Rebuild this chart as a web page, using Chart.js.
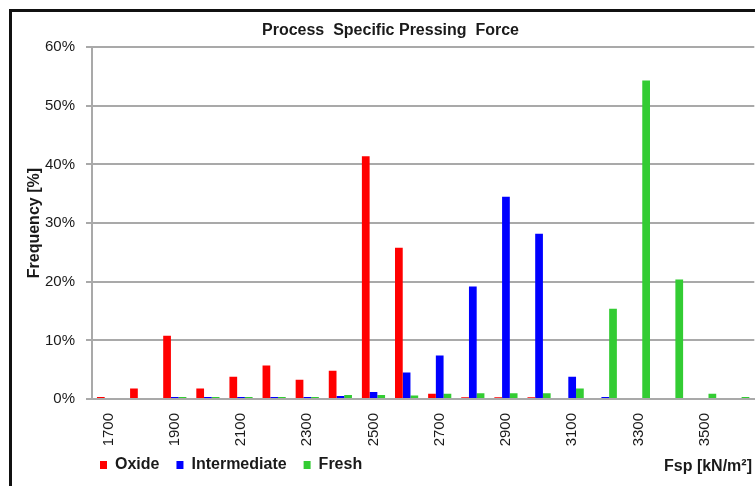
<!DOCTYPE html>
<html>
<head>
<meta charset="utf-8">
<script src="https://cdn.jsdelivr.net/npm/chart.js@4/dist/chart.umd.min.js"></script>
<style>
  html, body { margin:0; padding:0; background:#fff; overflow:hidden; width:755px; height:486px; }
  #wrap  { position:absolute; left:0; top:0; width:770px; height:497px; }
  #frame { position:absolute; left:9px; top:9px; width:900px; height:600px;
           border-left:3px solid #111; border-top:3px solid #111; pointer-events:none; }
</style>
</head>
<body>
<div id="wrap"><canvas id="chart"></canvas></div>
<div id="frame"></div>
<script>
'use strict';

/* ─── Data (percent) ───────────────────────────────────────────── */
const categories   = ['1700','1800','1900','2000','2100','2200','2300','2400','2500','2600',
                      '2700','2800','2900','3000','3100','3200','3300','3400','3500','3600'];
const oxide        = [0.35, 1.8, 10.8, 1.8, 3.8, 5.7, 3.3, 4.8, 41.4, 25.8,
                      0.9, 0.3, 0.3, 0.3, 0, 0, 0, 0, 0, 0];
const intermediate = [0, 0, 0.35, 0.35, 0.35, 0.35, 0.35, 0.5, 1.2, 4.5,
                      7.4, 19.2, 34.5, 28.2, 3.8, 0.35, 0, 0, 0, 0];
const fresh        = [0, 0, 0.35, 0.35, 0.35, 0.35, 0.35, 0.7, 0.7, 0.6,
                      0.9, 1.0, 1.0, 1.0, 1.8, 15.4, 54.3, 20.4, 0.9, 0.35];
const yTicks       = [0, 10, 20, 30, 40, 50, 60];

const FONT  = "'Liberation Sans', Arial, sans-serif";
const GRID  = '#a9a9a9';
const TEXT  = '#1a1a1a';

/* ─── Helpers ──────────────────────────────────────────────────── */
/* move the legend row under the plot, level with the x caption */
const legendShift = {
  id: 'legendShift',
  afterLayout(chart) {
    const l = chart.legend;
    if (!l) return;
    l.left += 62;  l.right += 62;
    l.top  -= 11;  l.bottom -= 11;
  }
};
/* x-axis caption sits on the legend row, right aligned */
const xCaption = {
  id: 'xCaption',
  afterDraw(chart) {
    const ctx = chart.ctx;
    ctx.save();
    ctx.font = 'bold 16px ' + FONT;
    ctx.fillStyle = TEXT;
    ctx.textAlign = 'right';
    ctx.textBaseline = 'middle';
    ctx.fillText('Fsp [kN/m²]', 752, 467);
    ctx.restore();
  }
};

function series(label, data, color) {
  return { label, data, backgroundColor: color, borderWidth: 0,
           categoryPercentage: 0.7, barPercentage: 1.0 };
}

/* ─── Chart ────────────────────────────────────────────────────── */
new Chart(document.getElementById('chart'), {
  type: 'bar',
  data: {
    labels: categories,
    datasets: [
      series('Oxide',        oxide,        '#ff0000'),
      series('Intermediate', intermediate, '#0000ff'),
      series('Fresh',        fresh,        '#33cc33'),
    ]
  },
  options: {
    responsive: true,
    maintainAspectRatio: false,
    animation: false,
    layout: { padding: { left: 21, right: 10, top: 0, bottom: 3 } },
    plugins: {
      title: {
        display: true, text: 'Process  Specific Pressing  Force', color: TEXT,
        font: { family: FONT, size: 16, weight: 'bold' },
        padding: { top: 21, bottom: 7 }
      },
      legend: {
        position: 'bottom', align: 'start',
        labels: { color: TEXT, font: { family: FONT, size: 16, weight: 'bold' },
                  boxWidth: 7, boxHeight: 8, padding: 17 }
      },
      tooltip: { enabled: false }
    },
    scales: {
      x: {
        grid: { display: false, drawTicks: false },
        border: { display: true, color: GRID, width: 2 },
        ticks: {
          autoSkip: false, maxRotation: 90, minRotation: 90, padding: 14,
          color: TEXT, font: { family: FONT, size: 15 },
          callback: (v, i) => i % 2 === 0 ? categories[i] : ''
        },
        afterFit: s => { s.height = 52; }
      },
      y: {
        min: 0, max: 60,
        afterBuildTicks: s => { s.ticks = yTicks.map(v => ({ value: v })); },
        grid: { color: GRID, lineWidth: 2, tickLength: 6 },
        border: { display: true, color: GRID, width: 2 },
        ticks: { color: TEXT, font: { family: FONT, size: 15 }, padding: 11,
                 callback: v => v + '%' },
        title: { display: true, text: 'Frequency [%]', color: TEXT,
                 font: { family: FONT, size: 16, weight: 'bold' } },
        afterFit: s => { s.width = 71; }
      }
    }
  },
  plugins: [legendShift, xCaption]
});
</script>
</body>
</html>
